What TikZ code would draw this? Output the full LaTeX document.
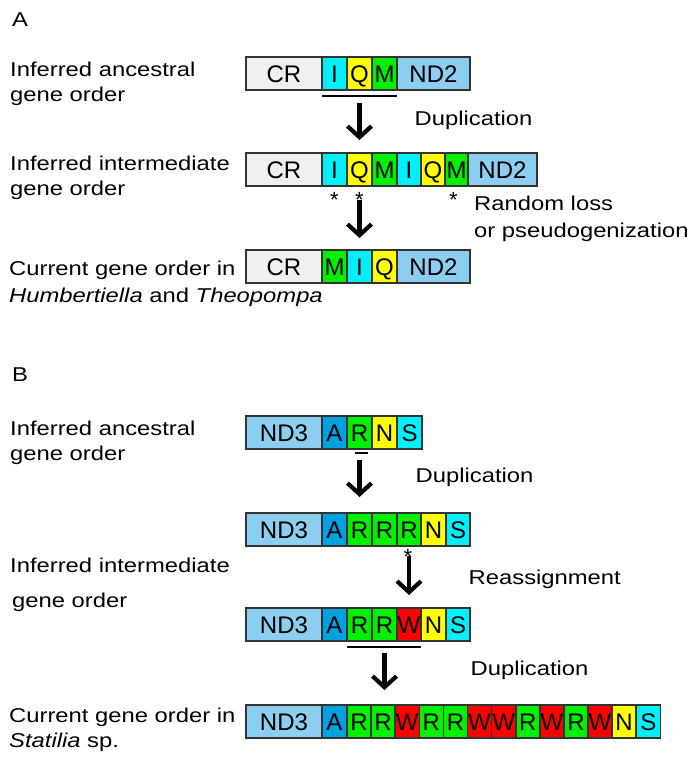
\documentclass[tikz,border=0pt]{standalone}
\usepackage{fontspec}
\usetikzlibrary{arrows.meta}
\newfontfamily\genefont{Liberation Sans}
\newfontfamily\lblfont[FakeStretch=1.19]{Liberation Sans}

\definecolor{gcr}{RGB}{240,240,240}
\definecolor{gcyan}{RGB}{0,240,250}
\definecolor{gyel}{RGB}{255,255,0}
\definecolor{ggreen}{RGB}{0,240,0}
\definecolor{gnd}{RGB}{140,205,240}
\definecolor{gblue}{RGB}{0,160,225}
\definecolor{gred}{RGB}{255,0,0}

\tikzset{
  gene/.style={rectangle, draw=black!80, line width=1.6pt, inner sep=0pt, outer sep=0pt,
    minimum height=33pt, anchor=north west, text height=17.2pt, text depth=0pt,
    font=\genefont\fontsize{24}{24}\selectfont},
  rowstart/.style={inner sep=0pt, outer sep=0pt, minimum size=0pt},
  lbl/.style={font=\lblfont\fontsize{20}{25}\selectfont, inner sep=0pt, align=left, anchor=north west},
  lblone/.style={font=\lblfont\fontsize{20}{25}\selectfont, inner sep=0pt, anchor=base west},
  astx/.style={font=\genefont\fontsize{22}{22}\selectfont, inner sep=0pt, anchor=base},
  down/.style={line width=4.2pt, -{Straight Barb[length=11pt,width=24pt]}},
  uline/.style={line width=1.4pt}
}

\begin{document}
\begin{tikzpicture}[x=1pt,y=-1pt]
    \useasboundingbox (0,0) rectangle (700,766);

    % panel A
    \node[lbl] (pa) at (12,13) {A};
    \node[lbl] (la1) at (10,61.5) {Inferred ancestral\\gene order};
    \node[lbl] (la2) at (10,156) {Inferred intermediate\\gene order};
    \node[lbl] (la3) at (9,260.5) {Current gene order in\\[2pt]{\itshape Humbertiella} and {\itshape Theopompa}};

    \node[rowstart] (a1-0) at (246,57) {};
    \foreach \t/\c/\w [count=\i, remember=\i as \j (initially 0)] in
      {CR/gcr/76, I/gcyan/25, Q/gyel/25, M/ggreen/25, ND2/gnd/73}
      \node[gene, fill=\c, minimum width=\w] (a1-\i) at (a1-\j.north east) {\t};

    \node[rowstart] (a2-0) at (246,153) {};
    \foreach \t/\c/\w [count=\i, remember=\i as \j (initially 0)] in
      {CR/gcr/76, I/gcyan/25, Q/gyel/25, M/ggreen/25, I/gcyan/24, Q/gyel/24, M/ggreen/23, ND2/gnd/69}
      \node[gene, fill=\c, minimum width=\w] (a2-\i) at (a2-\j.north east) {\t};

    \node[rowstart] (a3-0) at (246,250) {};
    \foreach \t/\c/\w [count=\i, remember=\i as \j (initially 0)] in
      {CR/gcr/76, M/ggreen/25, I/gcyan/25, Q/gyel/25, ND2/gnd/73}
      \node[gene, fill=\c, minimum width=\w] (a3-\i) at (a3-\j.north east) {\t};

    \draw[uline] ([yshift=-6pt]a1-2.south west) -- ([yshift=-6pt]a1-4.south east);
    \draw[down, shorten <=13pt, shorten >=13pt] (a1-3.south) -- (a1-3.south |- a2-3.north);
    \node[lblone] (dupa) at (414.5,125.2) {Duplication};

    \node[astx] (sa1) at ([yshift=-21.5pt]a2-2.south) {*};
    \node[astx] (sa2) at ([yshift=-21.5pt]a2-3.south) {*};
    \node[astx] (sa3) at ([xshift=-3pt,yshift=-21.5pt]a2-7.south) {*};
    \draw[down, shorten <=14pt, shorten >=12pt] (a2-3.south) -- (a2-3.south |- a3-3.north);
    \node[lbl] (lossa) at (474,195.6) {Random loss\\[2pt]or pseudogenization};

    % panel B
    \node[lbl] (pb) at (12,367.5) {B};
    \node[lbl] (lb1) at (10,420.5) {Inferred ancestral\\gene order};
    \node[lbl] (lb2) at (10,557.5) {Inferred intermediate\\[10pt]\hspace{2pt}gene order};
    \node[lbl] (lb3) at (9,707.5) {Current gene order in\\{\itshape Statilia} sp.};

    \node[rowstart] (b1-0) at (246,416) {};
    \foreach \t/\c/\w [count=\i, remember=\i as \j (initially 0)] in
      {ND3/gnd/76, A/gblue/25, R/ggreen/25, N/gyel/25, S/gcyan/25}
      \node[gene, fill=\c, minimum width=\w] (b1-\i) at (b1-\j.north east) {\t};

    \node[rowstart] (b2-0) at (246,513) {};
    \foreach \t/\c/\w [count=\i, remember=\i as \j (initially 0)] in
      {ND3/gnd/76, A/gblue/25, R/ggreen/25, R/ggreen/25, R/ggreen/24, N/gyel/25, S/gcyan/24}
      \node[gene, fill=\c, minimum width=\w] (b2-\i) at (b2-\j.north east) {\t};

    \node[rowstart] (b3-0) at (246,608) {};
    \foreach \t/\c/\w [count=\i, remember=\i as \j (initially 0)] in
      {ND3/gnd/76, A/gblue/25, R/ggreen/25, R/ggreen/25, W/gred/24, N/gyel/25, S/gcyan/24}
      \node[gene, fill=\c, minimum width=\w] (b3-\i) at (b3-\j.north east) {\t};

    \node[rowstart] (b4-0) at (246,705) {};
    \foreach \t/\c [count=\i, remember=\i as \j (initially 2)] in
      {R/ggreen, R/ggreen, W/gred, R/ggreen, R/ggreen, W/gred, W/gred, R/ggreen, W/gred, R/ggreen, W/gred, N/gyel, S/gcyan}
      {
      \ifnum\i=1
        \node[gene, fill=gnd, minimum width=76] (b4-1) at (b4-0.north east) {ND3};
        \node[gene, fill=gblue, minimum width=25] (b4-2) at (b4-1.north east) {A};
      \fi
      \pgfmathtruncatemacro\k{\i+2}
      \pgfmathtruncatemacro\m{\i+1}
      \node[gene, fill=\c, minimum width=24.1] (b4-\k) at (b4-\m.north east) {\t};
      }

    \draw[uline] ([xshift=8pt,yshift=-4pt]b1-3.south west) -- ([xshift=-4pt,yshift=-4pt]b1-3.south east);
    \draw[down, shorten <=11pt, shorten >=16pt] (b1-3.south) -- (b1-3.south |- b2-3.north);
    \node[lblone] (dupb1) at (415.5,482.2) {Duplication};

    \node[astx] (sb1) at ([xshift=-1pt,yshift=-18.5pt]b2-5.south) {*};
    \draw[down, shorten <=10pt, shorten >=13pt] (b2-5.south) -- (b2-5.south |- b3-5.north);
    \node[lblone] (reb) at (468.5,584.2) {Reassignment};

    \draw[uline] ([yshift=-6pt]b3-3.south west) -- ([yshift=-6pt]b3-5.south east);
    \draw[down, shorten <=12pt, shorten >=15pt] (b3-4.south) -- (b3-4.south |- b4-4.north);
    \node[lblone] (dupb2) at (470.5,675.2) {Duplication};
\end{tikzpicture}
\end{document}
